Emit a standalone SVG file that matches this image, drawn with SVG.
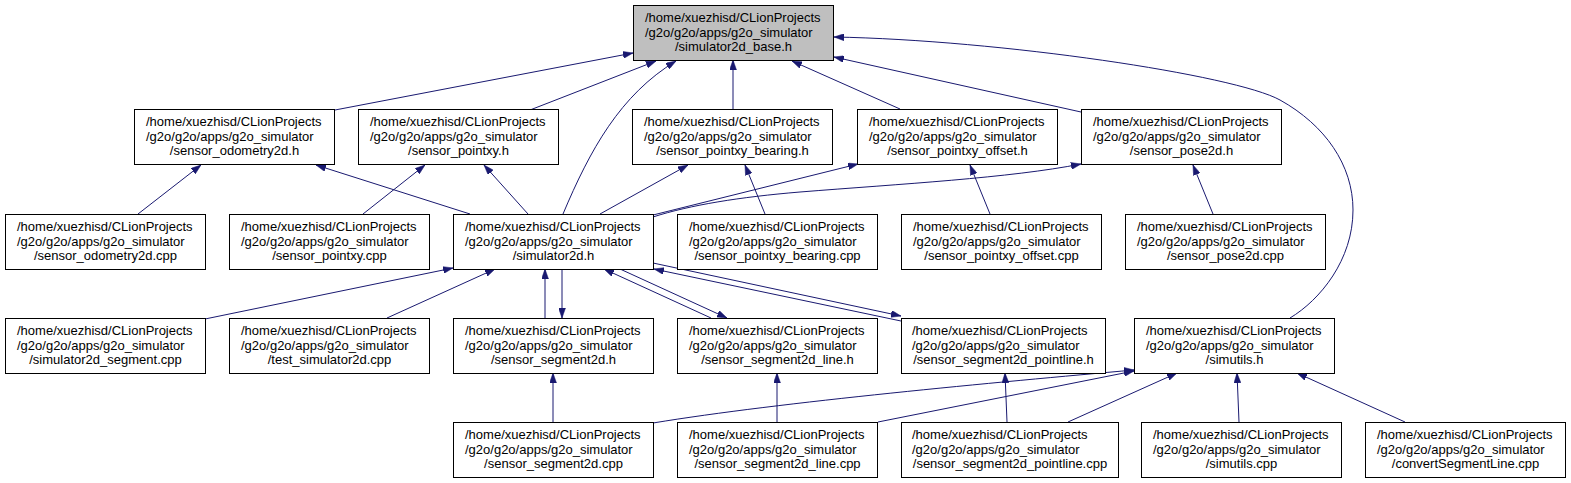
<svg xmlns="http://www.w3.org/2000/svg" width="1571" height="483" viewBox="0 0 1571 483">
<style>
.n rect{fill:#ffffff;stroke:#000000;stroke-width:1}
.n.hl rect{fill:#bfbfbf}
.n text{font-family:"Liberation Sans",Arial,Helvetica,sans-serif;font-size:13px;fill:#000000}
.n text.c{text-anchor:middle}
.e path{fill:none;stroke:#191970;stroke-width:1;marker-end:url(#arr)}
</style>
<defs>
<marker id="arr" markerUnits="userSpaceOnUse" viewBox="0 0 10 7" refX="10" refY="3.5" markerWidth="10" markerHeight="7" orient="auto">
<polygon points="0,0 10,3.5 0,7" fill="#191970" stroke="#191970" stroke-width="0.5"/>
</marker>
</defs>
<rect width="1571" height="483" fill="#ffffff"/>
<g id="edges" class="e">
<path d="M335,110 L633,53"/>
<path d="M530,110 L656,61"/>
<path d="M563,214 C590,150 620,95 676,61"/>
<path d="M733,109 L733,60"/>
<path d="M900,109 L792,61"/>
<path d="M1081,112 L834,57"/>
<path d="M1290,318 C1320,300 1353,260 1353,210 C1353,165 1325,125 1280,100 C1235,75 1000,40 834,37"/>
<path d="M138,214 L201,165"/>
<path d="M470,214 L316,165"/>
<path d="M363,214 L425,165"/>
<path d="M528,214 L484,165"/>
<path d="M600,214 L688,165"/>
<path d="M765,214 L745,165"/>
<path d="M653,215 L858,164"/>
<path d="M990,214 L970,165"/>
<path d="M653,217 C690,205 740,197 800,192 C900,184 1010,178 1081,164"/>
<path d="M1213,214 L1193,165"/>
<path d="M205,319 L453,268"/>
<path d="M387,318 L495,269"/>
<path d="M545,318 L545,269"/>
<path d="M562,269 L562,318"/>
<path d="M711,318 L604,269"/>
<path d="M620,269 L727,318"/>
<path d="M901,321 L654,269"/>
<path d="M653,263 L901,316"/>
<path d="M553,422 L553,373"/>
<path d="M777,422 L777,373"/>
<path d="M1007,422 L1005,373"/>
<path d="M653,423 C780,402 1000,382 1134,370"/>
<path d="M878,422 L1134,371"/>
<path d="M1068,422 L1177,373"/>
<path d="M1239,422 L1237,373"/>
<path d="M1405,422 L1297,373"/>
</g>
<g id="n0" class="n hl"><rect x="633.5" y="5.5" width="200" height="55"/><text x="645" y="22">/home/xuezhisd/CLionProjects</text><text x="645" y="36.5">/g2o/g2o/apps/g2o_simulator</text><text class="c" x="733.5" y="51">/simulator2d_base.h</text></g>
<g id="n1" class="n"><rect x="134.5" y="109.5" width="200" height="55"/><text x="146" y="126">/home/xuezhisd/CLionProjects</text><text x="146" y="140.5">/g2o/g2o/apps/g2o_simulator</text><text class="c" x="234.5" y="155">/sensor_odometry2d.h</text></g>
<g id="n2" class="n"><rect x="358.5" y="109.5" width="200" height="55"/><text x="370" y="126">/home/xuezhisd/CLionProjects</text><text x="370" y="140.5">/g2o/g2o/apps/g2o_simulator</text><text class="c" x="458.5" y="155">/sensor_pointxy.h</text></g>
<g id="n3" class="n"><rect x="632.5" y="109.5" width="200" height="55"/><text x="644" y="126">/home/xuezhisd/CLionProjects</text><text x="644" y="140.5">/g2o/g2o/apps/g2o_simulator</text><text class="c" x="732.5" y="155">/sensor_pointxy_bearing.h</text></g>
<g id="n4" class="n"><rect x="857.5" y="109.5" width="200" height="55"/><text x="869" y="126">/home/xuezhisd/CLionProjects</text><text x="869" y="140.5">/g2o/g2o/apps/g2o_simulator</text><text class="c" x="957.5" y="155">/sensor_pointxy_offset.h</text></g>
<g id="n5" class="n"><rect x="1081.5" y="109.5" width="200" height="55"/><text x="1093" y="126">/home/xuezhisd/CLionProjects</text><text x="1093" y="140.5">/g2o/g2o/apps/g2o_simulator</text><text class="c" x="1181.5" y="155">/sensor_pose2d.h</text></g>
<g id="n6" class="n"><rect x="5.5" y="214.5" width="200" height="55"/><text x="17" y="231">/home/xuezhisd/CLionProjects</text><text x="17" y="245.5">/g2o/g2o/apps/g2o_simulator</text><text class="c" x="105.5" y="260">/sensor_odometry2d.cpp</text></g>
<g id="n7" class="n"><rect x="229.5" y="214.5" width="200" height="55"/><text x="241" y="231">/home/xuezhisd/CLionProjects</text><text x="241" y="245.5">/g2o/g2o/apps/g2o_simulator</text><text class="c" x="329.5" y="260">/sensor_pointxy.cpp</text></g>
<g id="n8" class="n"><rect x="453.5" y="214.5" width="200" height="55"/><text x="465" y="231">/home/xuezhisd/CLionProjects</text><text x="465" y="245.5">/g2o/g2o/apps/g2o_simulator</text><text class="c" x="553.5" y="260">/simulator2d.h</text></g>
<g id="n9" class="n"><rect x="677.5" y="214.5" width="200" height="55"/><text x="689" y="231">/home/xuezhisd/CLionProjects</text><text x="689" y="245.5">/g2o/g2o/apps/g2o_simulator</text><text class="c" x="777.5" y="260">/sensor_pointxy_bearing.cpp</text></g>
<g id="n10" class="n"><rect x="901.5" y="214.5" width="200" height="55"/><text x="913" y="231">/home/xuezhisd/CLionProjects</text><text x="913" y="245.5">/g2o/g2o/apps/g2o_simulator</text><text class="c" x="1001.5" y="260">/sensor_pointxy_offset.cpp</text></g>
<g id="n11" class="n"><rect x="1125.5" y="214.5" width="200" height="55"/><text x="1137" y="231">/home/xuezhisd/CLionProjects</text><text x="1137" y="245.5">/g2o/g2o/apps/g2o_simulator</text><text class="c" x="1225.5" y="260">/sensor_pose2d.cpp</text></g>
<g id="n12" class="n"><rect x="5.5" y="318.5" width="200" height="55"/><text x="17" y="335">/home/xuezhisd/CLionProjects</text><text x="17" y="349.5">/g2o/g2o/apps/g2o_simulator</text><text class="c" x="105.5" y="364">/simulator2d_segment.cpp</text></g>
<g id="n13" class="n"><rect x="229.5" y="318.5" width="200" height="55"/><text x="241" y="335">/home/xuezhisd/CLionProjects</text><text x="241" y="349.5">/g2o/g2o/apps/g2o_simulator</text><text class="c" x="329.5" y="364">/test_simulator2d.cpp</text></g>
<g id="n14" class="n"><rect x="453.5" y="318.5" width="200" height="55"/><text x="465" y="335">/home/xuezhisd/CLionProjects</text><text x="465" y="349.5">/g2o/g2o/apps/g2o_simulator</text><text class="c" x="553.5" y="364">/sensor_segment2d.h</text></g>
<g id="n15" class="n"><rect x="677.5" y="318.5" width="200" height="55"/><text x="689" y="335">/home/xuezhisd/CLionProjects</text><text x="689" y="349.5">/g2o/g2o/apps/g2o_simulator</text><text class="c" x="777.5" y="364">/sensor_segment2d_line.h</text></g>
<g id="n16" class="n"><rect x="901.5" y="318.5" width="204" height="55"/><text x="912" y="335">/home/xuezhisd/CLionProjects</text><text x="912" y="349.5">/g2o/g2o/apps/g2o_simulator</text><text class="c" x="1003.5" y="364">/sensor_segment2d_pointline.h</text></g>
<g id="n17" class="n"><rect x="1134.5" y="318.5" width="200" height="55"/><text x="1146" y="335">/home/xuezhisd/CLionProjects</text><text x="1146" y="349.5">/g2o/g2o/apps/g2o_simulator</text><text class="c" x="1234.5" y="364">/simutils.h</text></g>
<g id="n18" class="n"><rect x="453.5" y="422.5" width="200" height="55"/><text x="465" y="439">/home/xuezhisd/CLionProjects</text><text x="465" y="453.5">/g2o/g2o/apps/g2o_simulator</text><text class="c" x="553.5" y="468">/sensor_segment2d.cpp</text></g>
<g id="n19" class="n"><rect x="677.5" y="422.5" width="200" height="55"/><text x="689" y="439">/home/xuezhisd/CLionProjects</text><text x="689" y="453.5">/g2o/g2o/apps/g2o_simulator</text><text class="c" x="777.5" y="468">/sensor_segment2d_line.cpp</text></g>
<g id="n20" class="n"><rect x="901.5" y="422.5" width="217" height="55"/><text x="912" y="439">/home/xuezhisd/CLionProjects</text><text x="912" y="453.5">/g2o/g2o/apps/g2o_simulator</text><text class="c" x="1010" y="468">/sensor_segment2d_pointline.cpp</text></g>
<g id="n21" class="n"><rect x="1141.5" y="422.5" width="200" height="55"/><text x="1153" y="439">/home/xuezhisd/CLionProjects</text><text x="1153" y="453.5">/g2o/g2o/apps/g2o_simulator</text><text class="c" x="1241.5" y="468">/simutils.cpp</text></g>
<g id="n22" class="n"><rect x="1365.5" y="422.5" width="200" height="55"/><text x="1377" y="439">/home/xuezhisd/CLionProjects</text><text x="1377" y="453.5">/g2o/g2o/apps/g2o_simulator</text><text class="c" x="1465.5" y="468">/convertSegmentLine.cpp</text></g>
</svg>
